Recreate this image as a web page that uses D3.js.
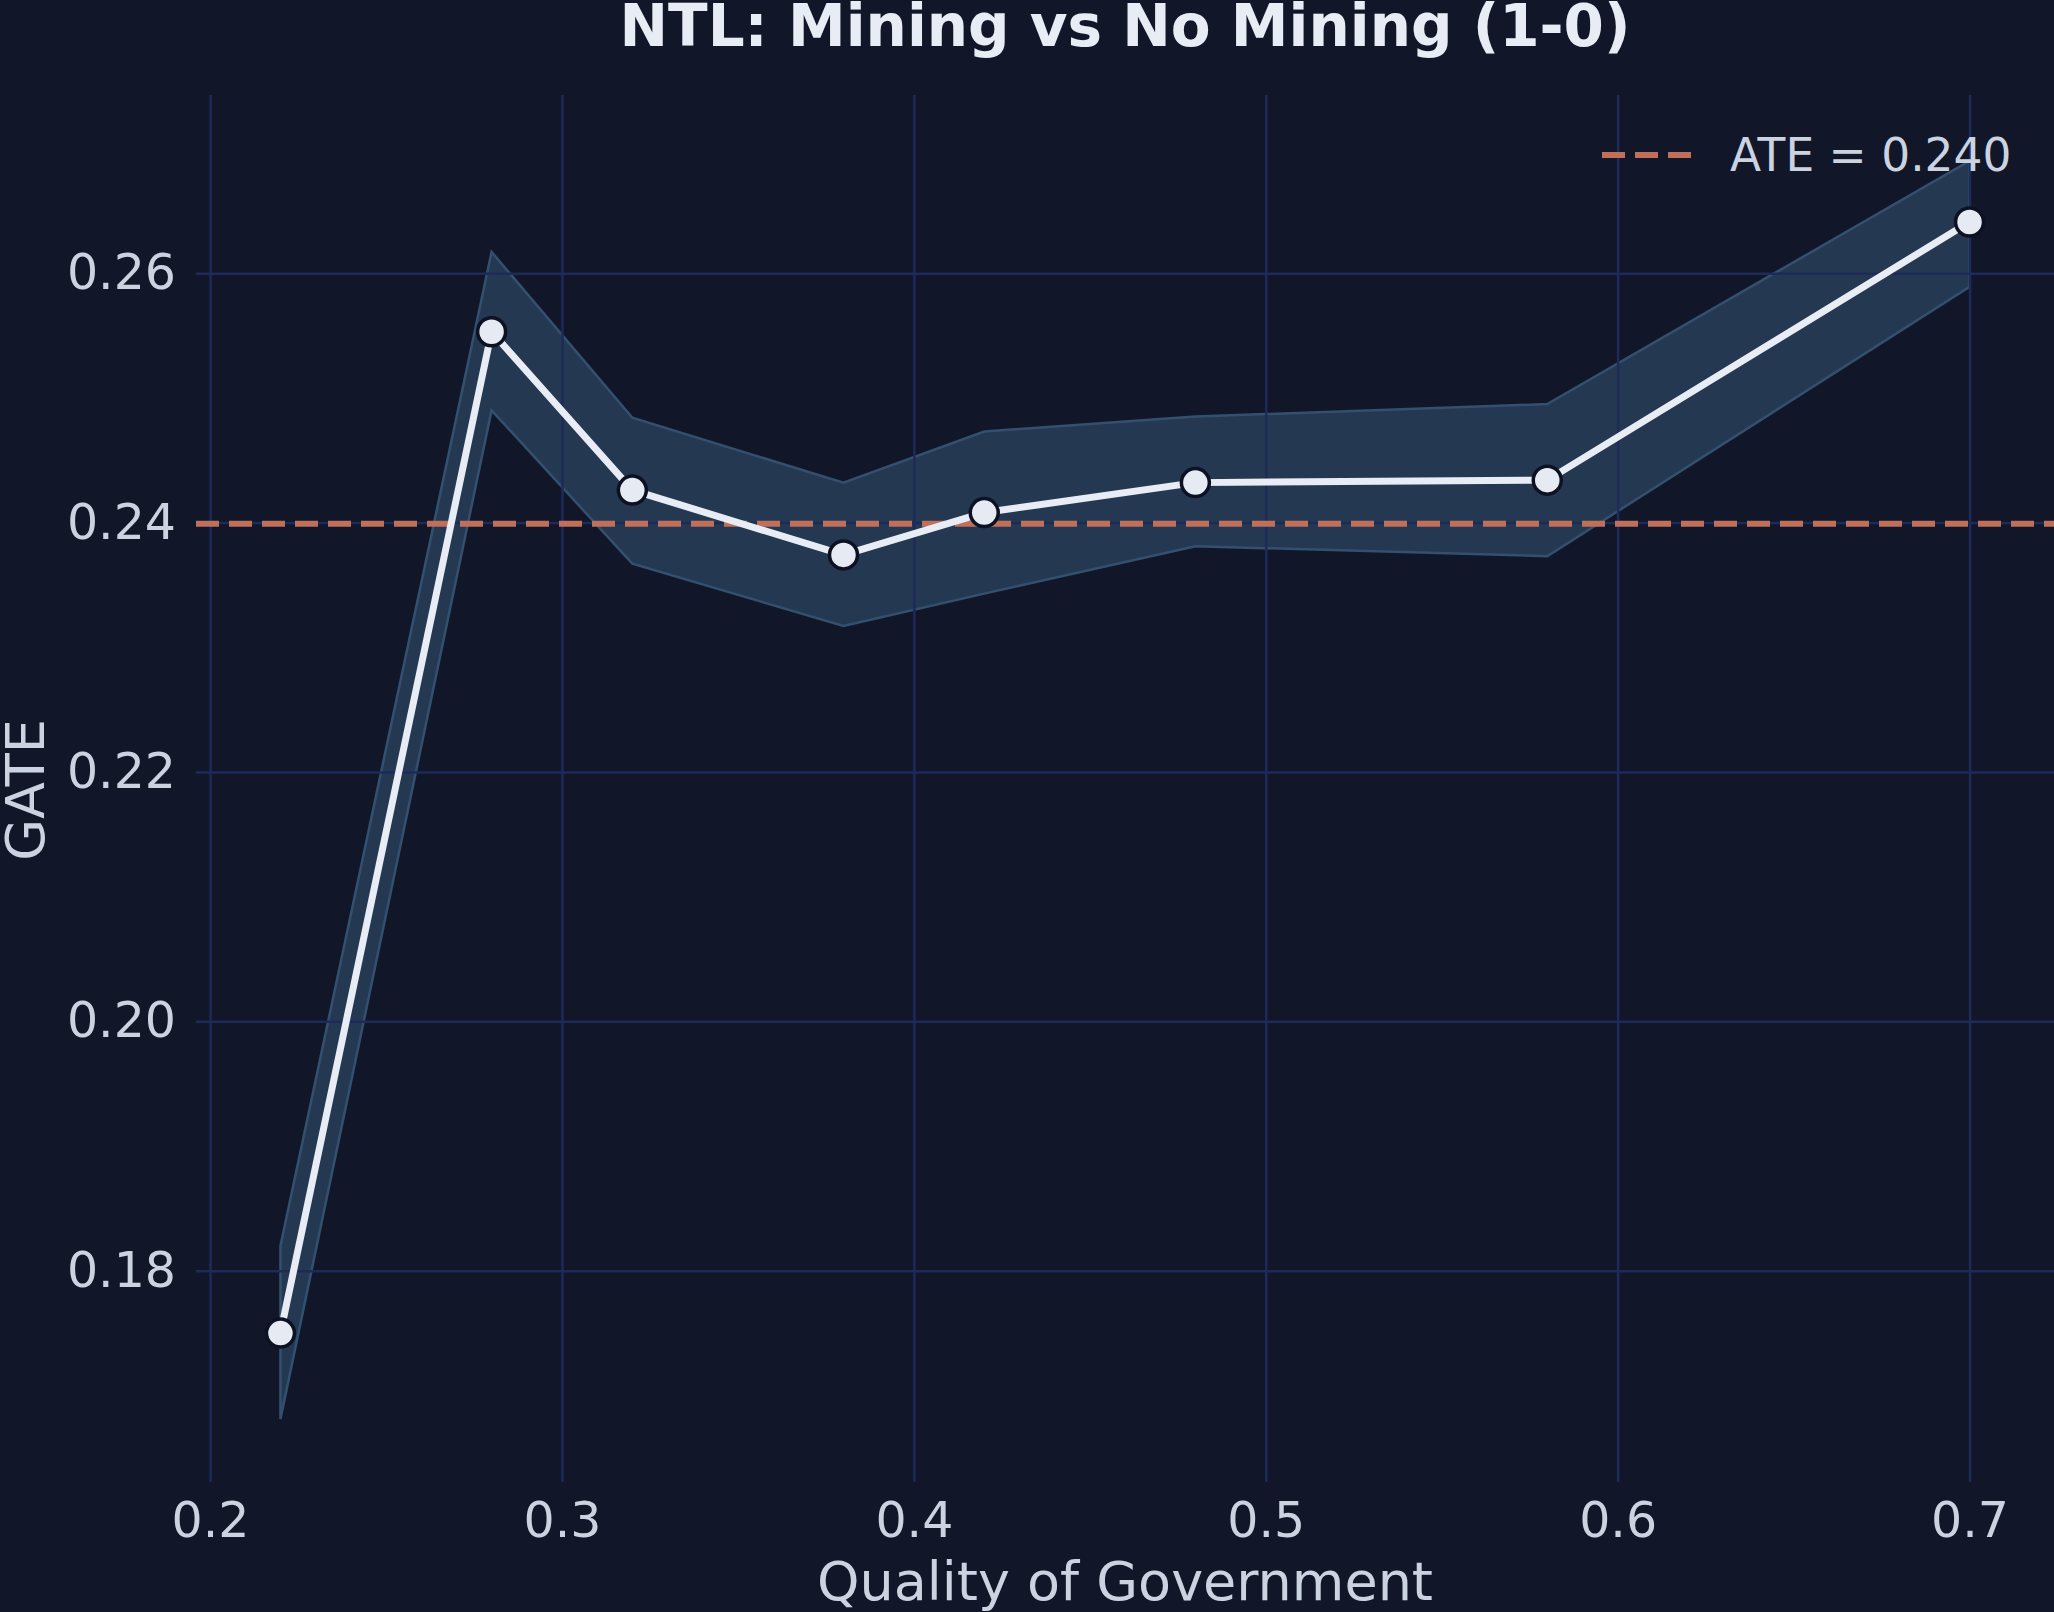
<!DOCTYPE html>
<html>
<head>
<meta charset="utf-8">
<script src="https://cdn.jsdelivr.net/npm/d3@7.9.0/dist/d3.min.js"></script>
<style>
  html, body { margin: 0; padding: 0; background: #111729; }
  svg { display: block; font-family: "DejaVu Sans", sans-serif; }
</style>
</head>
<body>
<div id="chart"></div>
<script>
// Data
const qog = [0.22, 0.28, 0.32, 0.38, 0.42, 0.48, 0.58, 0.70];
const gate = [0.1750, 0.2553, 0.2426, 0.2374, 0.2408, 0.2432, 0.2434, 0.2641];
const ciUpper = [0.1820, 0.2617, 0.2484, 0.2432, 0.2473, 0.2485, 0.2495, 0.2690];
const ciLower = [0.1681, 0.2490, 0.2367, 0.2317, 0.2343, 0.2381, 0.2373, 0.2589];
const ate = 0.2399;
const xTicks = [0.2, 0.3, 0.4, 0.5, 0.6, 0.7];
const yTicks = [0.18, 0.20, 0.22, 0.24, 0.26];

const width = 2054;
const height = 1612;
const margin = { top: 98, right: 0, bottom: 130, left: 196 };

const points = qog.map((q, i) => ({ q, g: gate[i], lo: ciLower[i], hi: ciUpper[i] }));

// matplotlib-like 5% padding around data
function padded([a, b]) {
  const m = (b - a) * 0.05;
  return [a - m, b + m];
}

const xScale = d3.scaleLinear()
  .domain(padded(d3.extent(qog)))
  .range([margin.left, width - margin.right]);

const yScale = d3.scaleLinear()
  .domain(padded([d3.min(ciLower), d3.max(ciUpper)]))
  .range([height - margin.bottom, margin.top]);

const svg = d3.select('#chart')
  .append('svg')
  .attr('width', width)
  .attr('height', height);

svg.append('rect')
  .attr('width', width)
  .attr('height', height)
  .attr('fill', '#111729');

svg.append('clipPath').attr('id', 'clip')
  .append('rect')
  .attr('x', margin.left).attr('y', margin.top)
  .attr('width', width - margin.left - margin.right)
  .attr('height', height - margin.top - margin.bottom);

// layers: band, then grid, then lines on top
const bandLayer = svg.append('g');
const gridLayer = svg.append('g');
const lineLayer = svg.append('g');

// Confidence band
const area = d3.area()
  .x(d => xScale(d.q))
  .y0(d => yScale(d.lo))
  .y1(d => yScale(d.hi));

bandLayer.append('path')
  .datum(points)
  .attr('d', area)
  .attr('fill', '#253852')
  .attr('stroke', '#33506f')
  .attr('stroke-width', 2.5);

// Gridlines + tick labels
const gridColor = '#1d2a5a';
const xAxis = gridLayer.append('g')
  .attr('transform', `translate(0,${height - margin.bottom})`)
  .call(d3.axisBottom(xScale)
    .tickValues(xTicks)
    .tickSize(-(height - margin.top - margin.bottom + 3))
    .tickPadding(20)
    .tickFormat(d3.format('.1f')));

const yAxis = gridLayer.append('g')
  .attr('transform', `translate(${margin.left},0)`)
  .call(d3.axisLeft(yScale)
    .tickValues(yTicks)
    .tickSize(-(width - margin.left - margin.right))
    .tickPadding(20)
    .tickFormat(d3.format('.2f')));

[xAxis, yAxis].forEach(ax => {
  ax.select('.domain').remove();
  ax.selectAll('.tick line')
    .attr('stroke', gridColor)
    .attr('stroke-width', 2.5);
  ax.selectAll('.tick text')
    .attr('fill', '#cbd3e1')
    .attr('font-size', 49)
    .attr('font-family', '"DejaVu Sans", sans-serif');
});
xAxis.selectAll('.tick text').attr('dy', '0.71em');

// ATE reference line
lineLayer.append('line')
  .attr('clip-path', 'url(#clip)')
  .attr('x1', margin.left)
  .attr('x2', width - margin.right)
  .attr('y1', yScale(ate))
  .attr('y2', yScale(ate))
  .attr('stroke', '#c0705a')
  .attr('stroke-width', 6)
  .attr('stroke-dasharray', '23,10');

// GATE line + markers
const line = d3.line()
  .x(d => xScale(d.q))
  .y(d => yScale(d.g));

lineLayer.append('path')
  .datum(points)
  .attr('d', line)
  .attr('fill', 'none')
  .attr('stroke', '#e8ecf4')
  .attr('stroke-width', 7)
  .attr('stroke-linejoin', 'round');

lineLayer.selectAll('circle')
  .data(points)
  .join('circle')
  .attr('cx', d => xScale(d.q))
  .attr('cy', d => yScale(d.g))
  .attr('r', 14)
  .attr('fill', '#e6eaf3')
  .attr('stroke', '#0c1222')
  .attr('stroke-width', 3.5);

// Legend
const legend = svg.append('g');
legend.append('line')
  .attr('x1', 1602).attr('x2', 1692)
  .attr('y1', 155).attr('y2', 155)
  .attr('stroke', '#c0705a')
  .attr('stroke-width', 6)
  .attr('stroke-dasharray', '23,10');
legend.append('text')
  .attr('x', 1730)
  .attr('y', 171)
  .attr('fill', '#cbd3e1')
  .attr('font-size', 45.5)
  .text(`ATE = ${ate.toFixed(3)}`);

// Title and axis labels
svg.append('text')
  .attr('x', (margin.left + width - margin.right) / 2)
  .attr('y', 46)
  .attr('text-anchor', 'middle')
  .attr('fill', '#e8ecf4')
  .attr('font-size', 58)
  .attr('font-weight', 'bold')
  .text('NTL: Mining vs No Mining (1-0)');

svg.append('text')
  .attr('x', (margin.left + width - margin.right) / 2)
  .attr('y', 1600)
  .attr('text-anchor', 'middle')
  .attr('fill', '#cbd3e1')
  .attr('font-size', 54)
  .text('Quality of Government');

svg.append('text')
  .attr('transform', `translate(44,${(margin.top + height - margin.bottom) / 2}) rotate(-90)`)
  .attr('text-anchor', 'middle')
  .attr('fill', '#cbd3e1')
  .attr('font-size', 54)
  .text('GATE');
</script>
</body>
</html>
